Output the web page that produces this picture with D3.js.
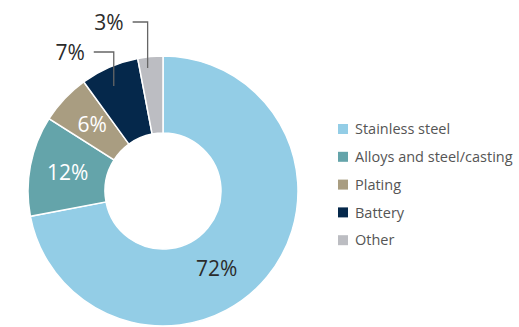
<!DOCTYPE html>
<html>
<head>
<meta charset="utf-8">
<script src="https://cdn.jsdelivr.net/npm/d3@7"></script>
<style>
  body { margin: 0; background: #fff; }
  svg { display: block; font-family: "Open Sans", "Noto Sans", sans-serif; }
</style>
</head>
<body>
<svg width="519" height="327"></svg>
<script>
// data
const categories = ["Stainless steel", "Alloys and steel/casting", "Plating", "Battery", "Other"];
const values = [72, 12, 6, 7, 3];
const colors = ["#93cde6", "#64a4aa", "#a99d81", "#05284b", "#bcbdc2"];
// how each label is shown: inside the ring or outside with a leader line
const labelMode = ["inside", "inside", "inside", "outside", "outside"];
const labelColor = ["#2b2b2b", "#ffffff", "#ffffff", "#2b2b2b", "#2b2b2b"];

const svg = d3.select("svg");
const cx = 163, cy = 191, rOuter = 135, rInner = 58;

const pie = d3.pie().sort(null).value(d => d)(values);
const arc = d3.arc().innerRadius(rInner).outerRadius(rOuter);

const g = svg.append("g").attr("transform", `translate(${cx},${cy})`);

g.selectAll("path.slice")
  .data(pie)
  .enter()
  .append("path")
  .attr("class", "slice")
  .attr("d", arc)
  .attr("fill", (d, i) => colors[i])
  .attr("stroke", "#fff")
  .attr("stroke-width", 1.5);

// inside labels
const pt = (a, r) => [r * Math.sin(a), -r * Math.cos(a)];
pie.forEach((d, i) => {
  if (labelMode[i] !== "inside") return;
  let a = (d.startAngle + d.endAngle) / 2;
  let r = 97;
  if (i === 0) { a = d.startAngle + (d.endAngle - d.startAngle) * 0.56; r = 94; }
  const [x, y] = pt(a, r);
  g.append("text")
    .attr("x", x).attr("y", y)
    .attr("dy", "0.36em")
    .attr("text-anchor", "middle")
    .attr("font-size", 21)
    .attr("fill", labelColor[i])
    .text(values[i] + "%");
});

// outside labels with elbow leader lines
const elbowY = [null, null, null, -139, -169];
const elbowLen = [null, null, null, 20, 15];
pie.forEach((d, i) => {
  if (labelMode[i] !== "outside") return;
  const a = (d.startAngle + d.endAngle) / 2 - 0.03;
  const [x0, y0] = pt(a, 116 + (i === 4 ? 8 : 0));
  const x1 = x0, y1 = elbowY[i];
  const x2 = x1 - elbowLen[i];
  g.append("polyline")
    .attr("points", `${x0},${y0} ${x1},${y1} ${x2},${y1}`)
    .attr("fill", "none")
    .attr("stroke", "#666")
    .attr("stroke-width", 1.3);
  g.append("text")
    .attr("x", x2 - 9).attr("y", y1)
    .attr("dy", "0.36em")
    .attr("text-anchor", "end")
    .attr("font-size", 21)
    .attr("fill", labelColor[i])
    .text(values[i] + "%");
});

// legend
const legend = svg.append("g").attr("transform", "translate(338,124)");
const rows = legend.selectAll("g")
  .data(categories)
  .enter()
  .append("g")
  .attr("transform", (d, i) => `translate(0,${i * 27.8})`);
rows.append("rect")
  .attr("width", 10).attr("height", 10)
  .attr("fill", (d, i) => colors[i]);
rows.append("text")
  .attr("x", 17).attr("y", 5)
  .attr("dy", "0.36em")
  .attr("font-size", 14.5)
  .attr("fill", "#555")
  .text(d => d);
</script>
</body>
</html>
